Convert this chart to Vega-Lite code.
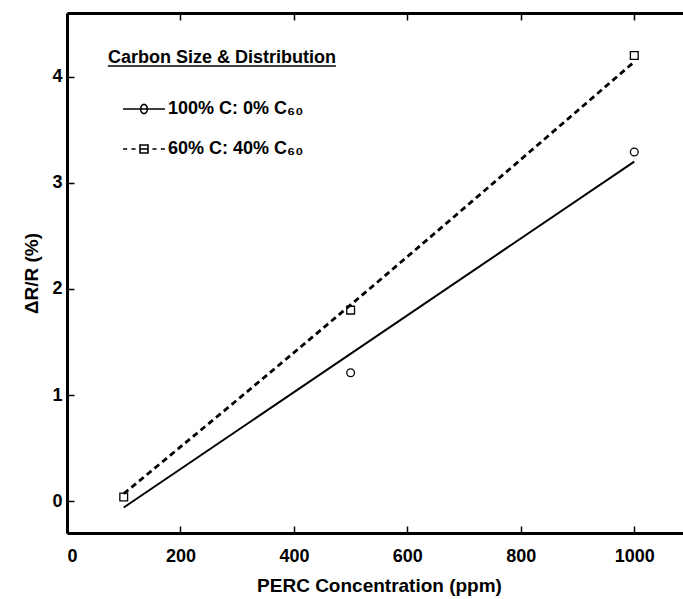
{
  "$schema": "https://vega.github.io/schema/vega-lite/v6.json",
  "width": 624,
  "height": 520,
  "autosize": {"type": "none"},
  "padding": {"left": 67, "top": 13, "right": 0, "bottom": 66},
  "background": "white",
  "config": {
    "view": {"stroke": null},
    "font": "Liberation Sans",
    "axis": {
      "grid": false,
      "domainColor": "black",
      "domainWidth": 3,
      "tickColor": "black",
      "tickWidth": 1.5,
      "tickSize": -7,
      "labelColor": "black",
      "labelFontSize": 18,
      "labelFontWeight": "bold",
      "titleColor": "black",
      "titleFontSize": 19,
      "titleFontWeight": "bold"
    }
  },
  "datasets": {
    "measured": [
      {"ppm": 500, "dr": 1.21, "series": "100% C: 0% C₆₀"},
      {"ppm": 1000, "dr": 3.29, "series": "100% C: 0% C₆₀"},
      {"ppm": 100, "dr": 0.04, "series": "60% C: 40% C₆₀"},
      {"ppm": 500, "dr": 1.8, "series": "60% C: 40% C₆₀"},
      {"ppm": 1000, "dr": 4.2, "series": "60% C: 40% C₆₀"}
    ],
    "fitted": [
      {"ppm": 100, "dr": -0.06, "series": "100% C: 0% C₆₀"},
      {"ppm": 1000, "dr": 3.2, "series": "100% C: 0% C₆₀"},
      {"ppm": 100, "dr": 0.07, "series": "60% C: 40% C₆₀"},
      {"ppm": 500, "dr": 1.85, "series": "60% C: 40% C₆₀"},
      {"ppm": 1000, "dr": 4.14, "series": "60% C: 40% C₆₀"}
    ]
  },
  "resolve": {
    "axis": {"x": "independent", "y": "independent"},
    "scale": {"shape": "independent"}
  },
  "layer": [
    {
      "data": {"name": "fitted"},
      "transform": [{"filter": "datum.series === '100% C: 0% C₆₀'"}],
      "mark": {"type": "line", "color": "black", "strokeWidth": 2},
      "encoding": {
        "x": {
          "field": "ppm",
          "type": "quantitative",
          "axis": {"orient": "top", "values": [0, 200, 400, 600, 800, 1000], "labels": false, "title": null}
        },
        "y": {"field": "dr", "type": "quantitative", "axis": null}
      }
    },
    {
      "data": {"name": "fitted"},
      "transform": [{"filter": "datum.series === '60% C: 40% C₆₀'"}],
      "mark": {"type": "line", "color": "black", "strokeWidth": 2.8, "strokeDash": [6, 4], "interpolate": "natural"},
      "encoding": {
        "x": {"field": "ppm", "type": "quantitative", "axis": null},
        "y": {"field": "dr", "type": "quantitative", "axis": null}
      }
    },
    {
      "data": {"name": "measured"},
      "mark": {"type": "point", "filled": false, "color": "black", "strokeWidth": 1.3, "size": 60, "opacity": 1},
      "encoding": {
        "x": {
          "field": "ppm",
          "type": "quantitative",
          "scale": {"domain": [0, 1100], "nice": false, "zero": false},
          "axis": {"orient": "bottom", "values": [0, 200, 400, 600, 800, 1000], "format": "d", "labelPadding": 21, "title": "PERC Concentration (ppm)", "titlePadding": 11}
        },
        "y": {
          "field": "dr",
          "type": "quantitative",
          "scale": {"domain": [-0.3, 4.6], "nice": false, "zero": false},
          "axis": {"orient": "left", "values": [0, 1, 2, 3, 4], "labelPadding": 12, "title": "ΔR/R (%)", "titlePadding": 10}
        },
        "shape": {
          "field": "series",
          "scale": {"domain": ["100% C: 0% C₆₀", "60% C: 40% C₆₀"], "range": ["circle", "square"]},
          "legend": null
        }
      }
    },
    {
      "data": {"name": "measured"},
      "mark": {"type": "point", "filled": false, "color": "black", "size": 0},
      "encoding": {
        "x": {"field": "ppm", "type": "quantitative", "axis": null},
        "y": {"field": "dr", "type": "quantitative", "axis": null},
        "shape": {
          "field": "series",
          "scale": {
            "domain": ["100% C: 0% C₆₀", "60% C: 40% C₆₀"],
            "range": [
              "M-1,0H1M0.16,0A0.16,0.22 0 1 1 -0.16,0A0.16,0.22 0 1 1 0.16,0",
              "M-1,0H-0.8M-0.6,0H-0.4M-0.19,-0.19H0.19V0.19H-0.19ZM-0.19,0H0.19M0.4,0H0.6M0.8,0H1"
            ]
          },
          "legend": {
            "title": "Carbon Size & Distribution",
            "orient": "none",
            "legendX": 41,
            "legendY": 36,
            "padding": 0,
            "titleFontSize": 18,
            "titleFontWeight": "bold",
            "titleColor": "black",
            "titleBaseline": "top",
            "titleLimit": 400,
            "titlePadding": 20,
            "labelFontSize": 18,
            "labelFontWeight": "bold",
            "labelColor": "black",
            "labelLimit": 400,
            "symbolSize": 1764,
            "symbolStrokeWidth": 1.6,
            "symbolStrokeColor": "black",
            "symbolFillColor": "transparent",
            "symbolOpacity": 1,
            "symbolOffset": 14,
            "labelOffset": 2,
            "rowPadding": 9
          }
        }
      }
    },
    {
      "data": {"values": [{}]},
      "mark": {"type": "rule", "color": "black", "strokeWidth": 1.5},
      "encoding": {
        "x": {"datum": 72, "type": "quantitative", "axis": null},
        "x2": {"datum": 474},
        "y": {"datum": 4.1, "type": "quantitative", "axis": null}
      }
    }
  ]
}
